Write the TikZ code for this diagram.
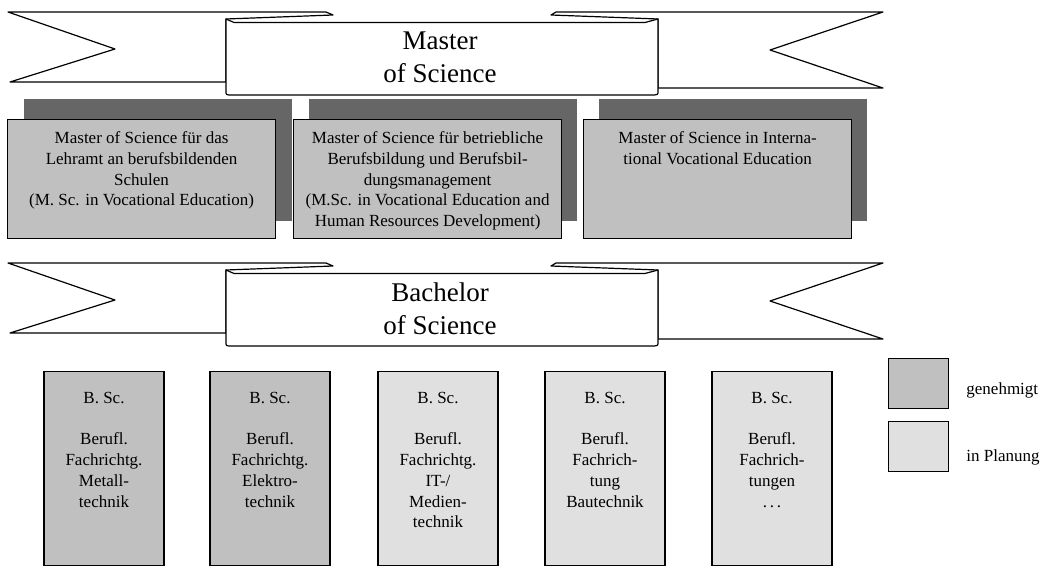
\documentclass[tikz,border=0pt]{standalone}
\usepackage{fontspec}
\setmainfont{Liberation Serif}
\usetikzlibrary{calc}

\definecolor{shade}{HTML}{666666}
\definecolor{approved}{HTML}{C0C0C0}
\definecolor{planned}{HTML}{E0E0E0}

% banner with a title: y shift, node name, text
\newcommand{\banner}[3]{%
  \begin{scope}[yshift=#1]
    \draw[ribbon] (8,12) -- (326,12) -- (333,15) -- (226,19) -- (226,82) -- (10,82) -- (115,49) -- cycle;
    \draw[ribbon] (883,12) -- (556,12) -- (551,15) -- (658,19) -- (658,88) -- (883,88) -- (770,50) -- cycle;
    \draw[ribbon] (226,19) -- (234,22.5) -- (645,22.5) -- (658,19) -- (658,91) .. controls (658,95) .. (650,95) -- (232,95) .. controls (226,95) .. (226,91) -- cycle;
    \node[title] (#2) at (440,57.5) {#3};
  \end{scope}}

\begin{document}
\begin{tikzpicture}[x=1pt, y=-1pt,
    ribbon/.style={draw, fill=white, line width=1.2pt, line join=round},
    title/.style={align=center, font=\fontsize{27}{33}\selectfont},
    shadowbox/.style={fill=shade, anchor=north west, minimum width=268, minimum height=122, inner sep=0pt},
    mbox/.style={draw, line width=1.2pt, fill=approved, anchor=north west, minimum width=268, minimum height=119, inner sep=0pt},
    bbox/.style={draw, line width=1.2pt, anchor=north, minimum width=120, minimum height=194, inner sep=0pt},
    boxtext/.style={anchor=north, align=center, inner sep=0pt, font=\fontsize{17}{20.7}\selectfont},
    legendbox/.style={draw, line width=1.2pt, anchor=north west, minimum width=60, minimum height=50, inner sep=0pt},
    legendtext/.style={anchor=base west, inner sep=0pt, font=\fontsize{17}{20.7}\selectfont}]
  \useasboundingbox (0,0) rectangle (1040,567);

  % Master
  \banner{0pt}{master}{Master\\of Science}

  \node[shadowbox] (s1) at (24,99) {};
  \node[shadowbox] (s2) at (309,99) {};
  \node[shadowbox] (s3) at (599,99) {};
  \node[mbox] (m1) at ([xshift=-17pt,yshift=-20pt]s1.north west) {};
  \node[mbox] (m2) at ([xshift=-16pt,yshift=-20pt]s2.north west) {};
  \node[mbox] (m3) at ([xshift=-16pt,yshift=-20pt]s3.north west) {};
  \node[boxtext] (mt1) at ([yshift=-12.5pt]m1.north) {Master of Science für das\\Lehramt an berufsbildenden\\Schulen\\(M. Sc. in Vocational Education)};
  \node[boxtext] (mt2) at ([yshift=-12.5pt]m2.north) {Master of Science für betriebliche\\Berufsbildung und Berufsbil-\\dungsmanagement\\(M.Sc. in Vocational Education and\\Human Resources Development)};
  \node[boxtext] (mt3) at ([yshift=-12.5pt]m3.north) {Master of Science in Interna-\\tional Vocational Education};

  % Bachelor
  \banner{-251pt}{bachelor}{Bachelor\\of Science}

  \node[bbox, fill=approved] (b1) at (104,371) {};
  \node[bbox, fill=approved] (b2) at (270,371) {};
  \node[bbox, fill=planned] (b3) at (438,371) {};
  \node[bbox, fill=planned] (b4) at (605,371) {};
  \node[bbox, fill=planned] (b5) at (772,371) {};
  \node[boxtext] (bt1) at ([yshift=-20.75pt]b1.north) {B. Sc.\\[21pt]Berufl.\\Fachrichtg.\\Metall-\\technik};
  \node[boxtext] (bt2) at ([yshift=-20.75pt]b2.north) {B. Sc.\\[21pt]Berufl.\\Fachrichtg.\\Elektro-\\technik};
  \node[boxtext] (bt3) at ([yshift=-20.75pt]b3.north) {B. Sc.\\[21pt]Berufl.\\Fachrichtg.\\IT-/\\Medien-\\technik};
  \node[boxtext] (bt4) at ([yshift=-20.75pt]b4.north) {B. Sc.\\[21pt]Berufl.\\Fachrich-\\tung\\Bautechnik};
  \node[boxtext] (bt5) at ([yshift=-20.75pt]b5.north) {B. Sc.\\[21pt]Berufl.\\Fachrich-\\tungen\\.\,.\,.};

  % legend
  \node[legendbox, fill=approved] (l1) at (888,358) {};
  \node[legendbox, fill=planned] (l2) at (888,421) {};
  \node[legendtext] (lt1) at ([xshift=17pt,yshift=-11pt]l1.east) {genehmigt};
  \node[legendtext] (lt2) at ([xshift=17pt,yshift=-15pt]l2.east) {in Planung};
\end{tikzpicture}
\end{document}
